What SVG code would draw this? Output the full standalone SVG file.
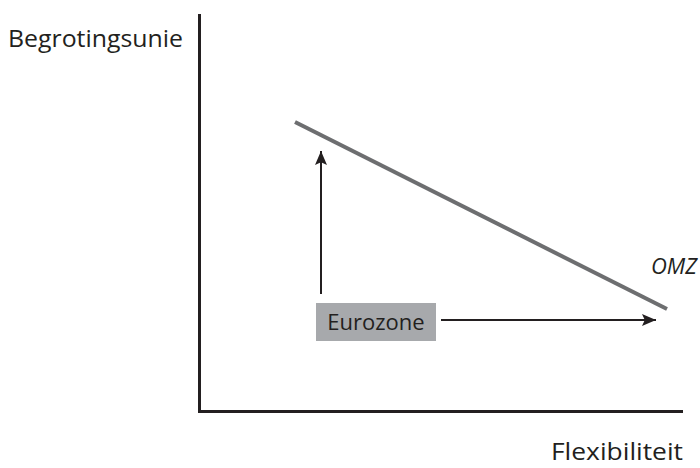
<svg xmlns="http://www.w3.org/2000/svg" width="700" height="468" viewBox="0 0 700 468">
<style>
text{font-family:"Open Sans","DejaVu Sans",sans-serif;fill:#231f20}
.lbl{font-size:24px}
.sm{font-size:22px}
.arr{stroke:#231f20;stroke-width:2;fill:none}
</style>
<defs>
<marker id="ah" viewBox="0 0 10 10" refX="10" refY="5" markerWidth="14" markerHeight="12" markerUnits="userSpaceOnUse" orient="auto" preserveAspectRatio="none">
<path d="M0,0 L10,5 L0,10 L2,5 Z" fill="#231f20"/>
</marker>
</defs>
<rect width="700" height="468" fill="#fff"/>
<g id="axes">
<path d="M199.5,14 V411.5 H683" stroke="#231f20" stroke-width="3" fill="none"/>
</g>
<g id="label-y"><text class="lbl" x="8" y="47" textLength="175" lengthAdjust="spacingAndGlyphs">Begrotingsunie</text></g>
<g id="label-x"><text class="lbl" x="551" y="460" textLength="132" lengthAdjust="spacingAndGlyphs">Flexibiliteit</text></g>
<g id="omz-line">
<line x1="295" y1="122" x2="667" y2="309" stroke="#6d6e70" stroke-width="4"/>
<text class="sm" x="651" y="274" font-style="italic">OMZ</text>
</g>
<g id="eurozone">
<rect x="316" y="303" width="120" height="38" fill="#a7a9ac"/>
<text class="sm" x="376" y="330" text-anchor="middle">Eurozone</text>
</g>
<g id="connectors">
<line class="arr" x1="321" y1="294" x2="321" y2="151" marker-end="url(#ah)"/>
<line class="arr" x1="441" y1="320" x2="656" y2="320" marker-end="url(#ah)"/>
</g>
</svg>
